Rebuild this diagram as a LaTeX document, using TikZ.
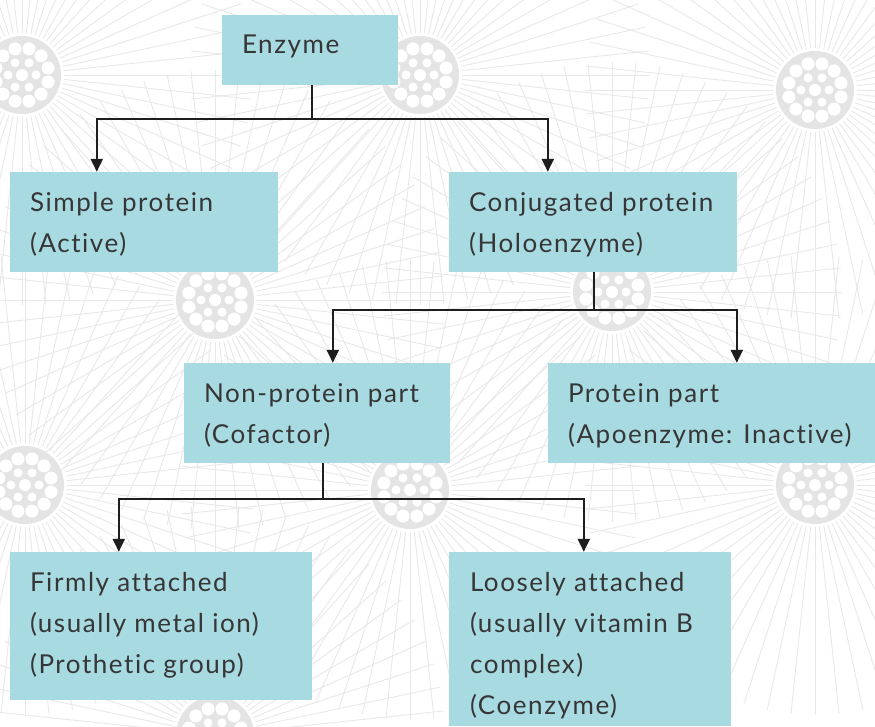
\documentclass[tikz,border=0pt]{standalone}
\usepackage{fontspec}
\setmainfont{Lato}[LetterSpace=6, Ligatures={NoCommon,NoRare}]
\usetikzlibrary{arrows.meta,calc}
\definecolor{boxfill}{HTML}{A8DAE2}
\definecolor{txt}{HTML}{363636}
\definecolor{lnk}{HTML}{1E1E1E}
\definecolor{bgline}{HTML}{E8E8E8}
\definecolor{bgdot}{HTML}{E4E4E4}
\tikzset{
  box/.style={fill=boxfill, draw=none, inner sep=0pt},
  lbl/.style={anchor=base west, inner sep=0pt, align=left, text=txt,
    font=\fontsize{26}{41}\selectfont},
  link/.style={draw=lnk, line width=2pt},
  arr/.style={link, -{Triangle[length=13pt,width=12pt]}},
  petal/.style={draw=bgline, line width=0.9pt},
}
\newcommand{\flowerat}[2]{%
  \begin{scope}[shift={(#1,#2)}]
    \foreach \a in {0,6,...,354}{\draw[petal] (\a:42) -- (\a:230);}
    \fill[bgdot] (0,0) circle (39);
    \fill[white] (0,0) circle (6);
    \foreach \a in {0,60,...,300}{\fill[white] (\a:14) circle (4.5);}
    \foreach \a in {15,45,...,345}{\fill[white] (\a:27) circle (6.5);}
  \end{scope}}
\begin{document}
\begin{tikzpicture}[x=1pt,y=-1pt]
\useasboundingbox (0,0) rectangle (875,726);
\begin{scope}
  \clip (0,0) rectangle (875,726);
  \fill[white] (0,0) rectangle (875,726);
  \flowerat{22}{75}
  \flowerat{420}{75}
  \flowerat{815}{90}
  \flowerat{215}{300}
  \flowerat{612}{292}
  \flowerat{25}{485}
  \flowerat{410}{490}
  \flowerat{815}{485}
  \flowerat{215}{735}
\end{scope}

% boxes
\node[box, minimum width=176pt, minimum height=70pt]  (enz)   at (310,50)    {};
\node[box, minimum width=268pt, minimum height=100pt] (simp)  at (144,222)   {};
\node[box, minimum width=288pt, minimum height=100pt] (conj)  at (593,222)   {};
\node[box, minimum width=266pt, minimum height=100pt] (nonp)  at (317,413)   {};
\node[box, minimum width=327pt, minimum height=100pt] (prot)  at (711.5,413) {};
\node[box, minimum width=302pt, minimum height=148pt] (firm)  at (161,626)   {};
\node[box, minimum width=282pt, minimum height=174pt] (loose) at (590,639)   {};

% labels: base anchor = baseline of last line; first baseline 40pt below box top, lines 41pt apart
\node[lbl] (tenz)   at ([shift={(20,39)}]enz.north west)    {Enzyme};
\node[lbl] (tsimp)  at ([shift={(20,81)}]simp.north west)   {Simple protein\\(Active)};
\node[lbl] (tconj)  at ([shift={(20,81)}]conj.north west)   {Conjugated protein\\(Holoenzyme)};
\node[lbl] (tnonp)  at ([shift={(20,81)}]nonp.north west)   {Non-protein part\\(Cofactor)};
\node[lbl] (tprot)  at ([shift={(20,81)}]prot.north west)   {Protein part\\(Apoenzyme: Inactive)};
\node[lbl] (tfirm)  at ([shift={(20,122)}]firm.north west)  {Firmly attached\\(usually metal ion)\\(Prothetic group)};
\node[lbl] (tloose) at ([shift={(21,163)}]loose.north west) {Loosely attached\\(usually vitamin B\\complex)\\(Coenzyme)};

% connectors
\coordinate (j1) at (312,119);
\coordinate (j2) at (594,310);
\coordinate (j3) at (323,499);
\draw[link, line width=1.5pt] (enz.south -| j1) -- (j1);
\draw[arr] (j1) -| ([xshift=87pt]simp.north west);
\draw[arr] (j1) -| ([xshift=99pt]conj.north west);
\draw[link, line width=1.5pt] (conj.south -| j2) -- (j2);
\draw[arr] (j2) -| ([xshift=149pt]nonp.north west);
\draw[arr] (j2) -| ([xshift=189pt]prot.north west);
\draw[link, line width=1.5pt] (nonp.south -| j3) -- (j3);
\draw[arr] (j3) -| ([xshift=109pt]firm.north west);
\draw[arr] (j3) -| ([xshift=135pt]loose.north west);
\end{tikzpicture}
\end{document}
